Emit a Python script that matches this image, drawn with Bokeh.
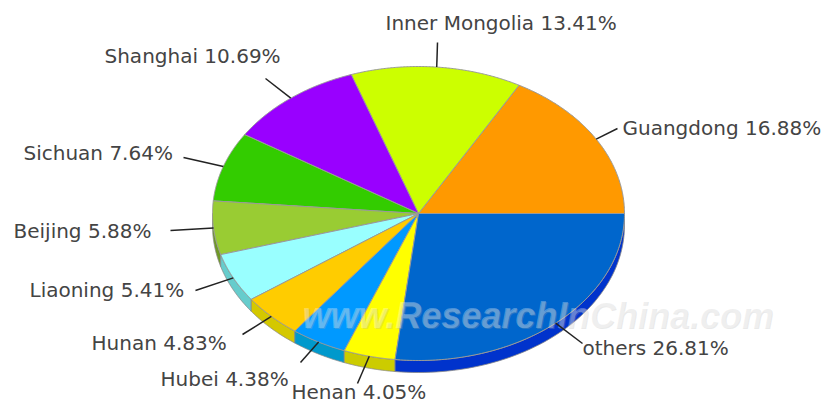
import numpy as np
from bokeh.plotting import figure
from bokeh.models import Range1d, ColumnDataSource
from bokeh.core.properties import value
from bokeh.embed import file_html
from bokeh.resources import INLINE

# ---- data ----
regions = ["Guangdong", "Inner Mongolia", "Shanghai", "Sichuan", "Beijing",
           "Liaoning", "Hunan", "Hubei", "Henan", "others"]
shares = [16.88, 13.41, 10.69, 7.64, 5.88, 5.41, 4.83, 4.38, 4.05, 26.81]
top_colors = ["#FF9900", "#CCFF00", "#9900FF", "#33CC00", "#99CC33",
              "#99FFFF", "#FFCC00", "#0099FF", "#FFFF00", "#0066CC"]
side_colors = ["#CC7A00", "#A3CC00", "#7A00CC", "#29A300", "#6F9926",
               "#66CCCC", "#D4C800", "#0099CC", "#CCCC00", "#0033CC"]

# ---- layout (picture pixels) ----
CX, CY, RX, RY, DEPTH = 418, 213, 206, 147, 12
label_pos = [(622, 127), (385, 22), (104, 55), (23, 152), (13, 230),
             (29, 289), (91, 342), (160, 378), (291, 391), (582, 347)]
leader_out = [(617, 128), (437, 42), (265, 78), (183, 157), (170, 230),
              (195, 290), (242, 334), (300, 362), (357, 383), (582, 343)]

W, H = 823, 403
p = figure(width=W, height=H, x_range=Range1d(0, W), y_range=Range1d(H, 0),
           output_backend="svg", toolbar_location=None, min_border=0)
p.axis.visible = False
p.grid.visible = False
p.outline_line_color = None
p.background_fill_color = "white"
p.border_fill_color = "white"


def ell(t):
    return CX + RX * np.cos(t), CY - RY * np.sin(t)


total = sum(shares)
bounds = np.concatenate([[0], np.cumsum(shares)]) / total * 2 * np.pi

# sides
sx, sy, sc = [], [], []
for i in range(len(shares)):
    a0, a1 = bounds[i], bounds[i + 1]
    lo, hi = max(a0, np.pi), min(a1, 2 * np.pi)
    if hi > lo:
        t = np.linspace(lo, hi, 60)
        x, y = ell(t)
        xs = list(x) + list(x[::-1])
        ys = list(y) + list((y + DEPTH)[::-1])
        sx.append(xs); sy.append(ys); sc.append(side_colors[i])
p.patches(xs="xs", ys="ys", fill_color="c", line_color="#888888", line_width=0.8,
          source=ColumnDataSource(dict(xs=sx, ys=sy, c=sc)))

# tops
tx, ty = [], []
for i in range(len(shares)):
    t = np.linspace(bounds[i], bounds[i + 1], 120)
    x, y = ell(t)
    tx.append([CX] + list(x)); ty.append([CY] + list(y))
p.patches(xs="xs", ys="ys", fill_color="c", line_color="#999999", line_width=1,
          source=ColumnDataSource(dict(xs=tx, ys=ty, c=top_colors)))

# watermark
wm = "www.ResearchInChina.com"
p.text(x=[303], y=[316], text=[wm], text_font=value("Liberation Sans"),
       text_font_style="bold italic", text_font_size="36px", text_color="#aaaaaa",
       text_alpha=0.25, text_baseline="alphabetic", text_align="left")
p.text(x=[302], y=[315], text=[wm], text_font=value("Liberation Sans"),
       text_font_style="bold italic", text_font_size="36px", text_color="#ffffff",
       text_alpha=0.3, text_baseline="alphabetic", text_align="left")

# leader lines
lx, ly = [], []
for i in range(len(shares)):
    m = (bounds[i] + bounds[i + 1]) / 2
    x, y = ell(m)
    lx.append([x, leader_out[i][0]]); ly.append([y, leader_out[i][1]])
p.multi_line(xs=lx, ys=ly, line_color="#222222", line_width=1.5)

# labels
labels = [f"{r} {s:.2f}%" for r, s in zip(regions, shares)]
p.text(x=[q[0] for q in label_pos], y=[q[1] for q in label_pos], text=labels,
       text_font=value("DejaVu Sans"), text_font_size="20px", text_color="#444444",
       text_baseline="middle", text_align="left")

open("out.html", "w").write(file_html(p, INLINE))
